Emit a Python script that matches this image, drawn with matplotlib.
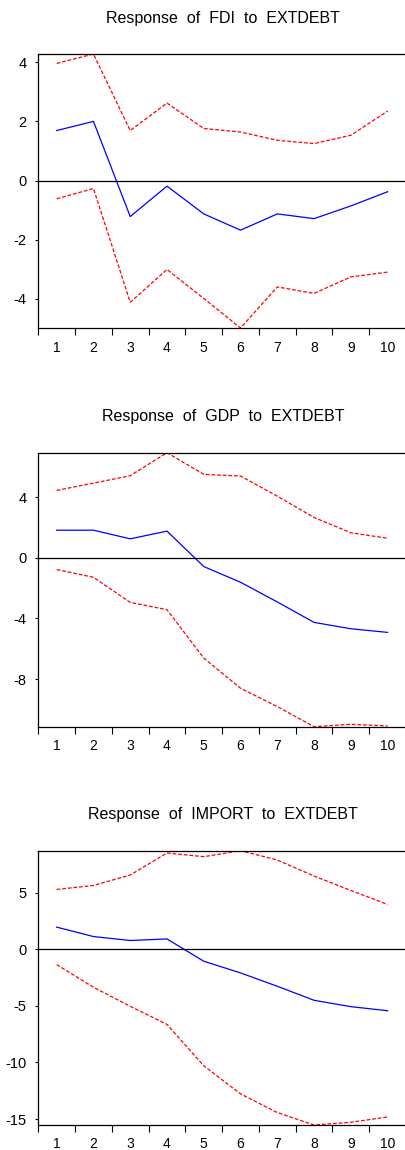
import numpy as np
import matplotlib.pyplot as plt

plt.rcParams['font.family'] = ['Liberation Sans', 'DejaVu Sans']

periods = np.arange(1, 11)

# Response of FDI to EXTDEBT
fdi_resp = [1.69, 2.00, -1.22, -0.19, -1.13, -1.68, -1.13, -1.29, -0.86, -0.38]
fdi_upper = [3.96, 4.28, 1.69, 2.62, 1.76, 1.64, 1.36, 1.25, 1.53, 2.35]
fdi_lower = [-0.62, -0.27, -4.12, -3.01, -3.99, -4.99, -3.60, -3.82, -3.26, -3.10]

# Response of GDP to EXTDEBT
gdp_resp = [1.83, 1.83, 1.26, 1.77, -0.57, -1.61, -2.91, -4.26, -4.68, -4.92]
gdp_upper = [4.46, 4.94, 5.43, 6.95, 5.52, 5.41, 4.08, 2.67, 1.66, 1.30]
gdp_lower = [-0.77, -1.28, -2.94, -3.42, -6.62, -8.61, -9.82, -11.15, -10.99, -11.10]

# Response of IMPORT to EXTDEBT
imp_resp = [1.95, 1.12, 0.77, 0.91, -1.06, -2.09, -3.27, -4.51, -5.07, -5.43]
imp_upper = [5.28, 5.63, 6.55, 8.50, 8.17, 8.70, 7.88, 6.46, 5.19, 3.95]
imp_lower = [-1.36, -3.36, -5.04, -6.64, -10.29, -12.77, -14.42, -15.52, -15.28, -14.81]

titles = ['Response  of  FDI  to  EXTDEBT', 'Response  of  GDP  to  EXTDEBT',
          'Response  of  IMPORT  to  EXTDEBT']
yticks = [[-4, -2, 0, 2, 4], [-8, -4, 0, 4], [-15, -10, -5, 0, 5]]
panels = [(fdi_resp, fdi_upper, fdi_lower),
          (gdp_resp, gdp_upper, gdp_lower),
          (imp_resp, imp_upper, imp_lower)]

W, H = 406, 1150
fig = plt.figure(figsize=(W / 100, H / 100), dpi=100)

# положение осей в пикселях: (top, bottom)
boxes = [(54, 328), (452.7, 726.7), (850.7, 1125)]
left_px, right_px = 38.3, 406

for k, (resp, up, lo) in enumerate(panels):
    top, bot = boxes[k]
    ax = fig.add_axes([left_px / W, 1 - bot / H, (right_px - left_px) / W, (bot - top) / H])

    ax.plot(periods, resp, color='#0000ff', lw=0.9)
    ax.plot(periods, up, color='#ff0000', lw=0.9, ls=(0, (3, 1.5)))
    ax.plot(periods, lo, color='#ff0000', lw=0.9, ls=(0, (3, 1.5)))
    ax.axhline(0, color='black', lw=0.9)

    ax.set_ylim(min(lo), max(up))
    ax.set_xlim(0.5, 0.5 + (right_px - left_px) / 37.0)

    ax.set_xticks(np.arange(0.5, 11, 1.0))
    ax.set_xticklabels([])
    ax.set_xticks(periods, minor=True)
    ax.set_xticklabels([str(p) for p in periods], minor=True, fontsize=10)
    ax.tick_params(axis='x', which='major', direction='out', length=5, width=0.8)
    ax.tick_params(axis='x', which='minor', length=0, pad=9)

    ax.set_yticks(yticks[k])
    ax.set_yticklabels([str(v) for v in yticks[k]], fontsize=10.5)
    ax.tick_params(axis='y', direction='out', length=2.5, width=0.8, pad=6)

    for side in ['left', 'top', 'bottom']:
        ax.spines[side].set_linewidth(0.9)
    ax.spines['right'].set_visible(False)

    fig.text(223 / W, 1 - (top - 36) / H, titles[k], ha='center', va='center', fontsize=11.5)

fig.savefig('out.png', dpi=100)
